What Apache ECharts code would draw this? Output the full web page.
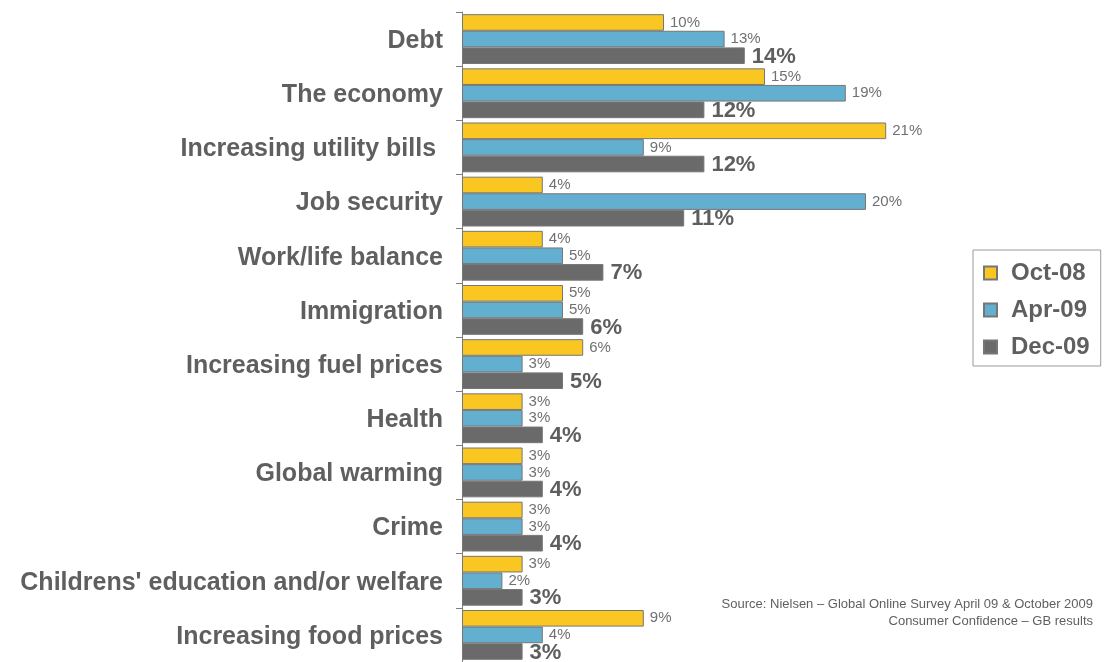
<!DOCTYPE html>
<html>
<head>
<meta charset="utf-8">
<script src="https://cdn.jsdelivr.net/npm/echarts@6/dist/echarts.min.js"></script>
<style>
  html, body { margin: 0; padding: 0; background: #ffffff; }
  #chart { width: 1105px; height: 662px; }
</style>
</head>
<body>
<div id="chart"></div>
<script>
// Concerns, top to bottom
const categories = [
  'Debt', 'The economy', 'Increasing utility bills ', 'Job security',
  'Work/life balance', 'Immigration', 'Increasing fuel prices', 'Health',
  'Global warming', 'Crime', "Childrens' education and/or welfare", 'Increasing food prices'
];
const seriesNames = ['Oct-08', 'Apr-09', 'Dec-09'];
// Share of respondents naming each concern (%)
const oct08 = [10, 15, 21, 4, 4, 5, 6, 3, 3, 3, 3, 9];
const apr09 = [13, 19, 9, 20, 5, 5, 3, 3, 3, 3, 2, 4];
const dec09 = [14, 12, 12, 11, 7, 6, 5, 4, 4, 4, 3, 3];
const sourceLines = [
  'Source: Nielsen \u2013 Global Online Survey April 09 & October 2009',
  'Consumer Confidence \u2013 GB results'
];

const FONT = '"Liberation Sans", Arial, sans-serif';
const colors = ['#F9C622', '#63AFD0', '#6A6A6A'];

const smallLabel = {
  show: true, position: 'right', distance: 6,
  formatter: '{c}%', color: '#707070', fontSize: 15, fontFamily: FONT
};
const boldLabel = {
  show: true, position: 'right', distance: 7, offset: [0, 1],
  formatter: '{c}%', color: '#5E5E5E', fontSize: 22, fontWeight: 'bold', fontFamily: FONT
};

function barSeries(name, data, color, label) {
  return {
    name: name,
    type: 'bar',
    data: data,
    barGap: '0%',
    barCategoryGap: '8%',
    itemStyle: { color: color, borderColor: '#767676', borderWidth: 1 },
    label: label,
    emphasis: { disabled: true },
    animation: false
  };
}

const chart = echarts.init(document.getElementById('chart'), null, { renderer: 'canvas' });
chart.setOption({
  backgroundColor: '#ffffff',
  animation: false,
  grid: { left: 462, top: 12, right: 37, bottom: -3, containLabel: false },
  xAxis: {
    type: 'value', min: 0, max: 30,
    show: false
  },
  yAxis: {
    type: 'category',
    data: categories,
    inverse: true,
    axisLine: { show: true, lineStyle: { color: '#7F7F7F', width: 1 } },
    axisTick: { show: true, length: 6, lineStyle: { color: '#7F7F7F' } },
    axisLabel: {
      margin: 19,
      formatter: (v) => '{c|' + v + '}',
      rich: {
        c: {
          color: '#5F5F5F', fontSize: 25, fontWeight: 'bold', fontFamily: FONT,
          padding: [4, 0, 0, 0]
        }
      }
    },
    splitLine: { show: false }
  },
  legend: {
    data: seriesNames,
    orient: 'vertical',
    left: 973, top: 250,
    padding: [11, 11, 7, 10],
    icon: 'rect',
    itemWidth: 13, itemHeight: 13, itemGap: 13,
    borderColor: '#9A9A9A', borderWidth: 1,
    selectedMode: false,
    textStyle: {
      color: '#5F5F5F', fontSize: 24, fontWeight: 'bold', fontFamily: FONT,
      padding: [0, 0, 0, 9]
    }
  },
  graphic: sourceLines.map((t, i) => ({
    type: 'text',
    right: 12,
    top: 598 + i * 17,
    style: {
      text: t, fill: '#5F5F5F', font: '13px ' + FONT, textAlign: 'right'
    }
  })),
  series: [
    barSeries(seriesNames[0], oct08, colors[0], smallLabel),
    barSeries(seriesNames[1], apr09, colors[1], smallLabel),
    barSeries(seriesNames[2], dec09, colors[2], boldLabel)
  ]
});
</script>
</body>
</html>
